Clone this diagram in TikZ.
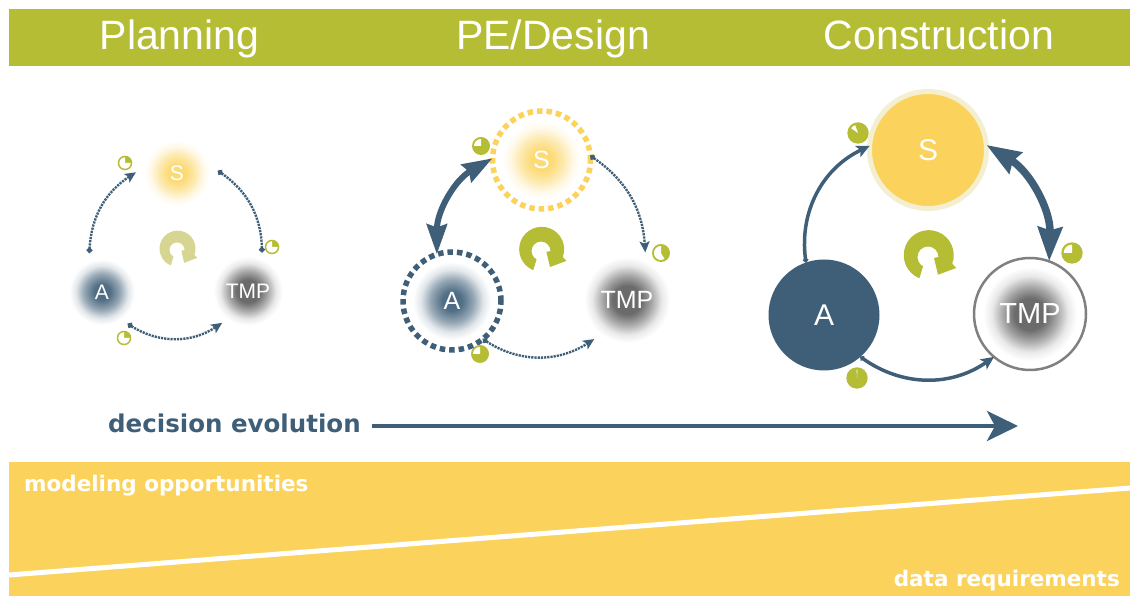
\documentclass[tikz,border=0pt]{standalone}
\usepackage{fontspec}
\setmainfont{Liberation Sans}
\newfontfamily\evofont{DejaVu Sans}
\usetikzlibrary{arrows.meta}
\definecolor{bandolive}{HTML}{B5BD35}
\definecolor{paleolive}{HTML}{D6D592}
\definecolor{bandyellow}{HTML}{FBD35C}
\definecolor{paleyellow}{HTML}{F3EFD0}
\definecolor{slateblue}{HTML}{3F5F78}
\definecolor{midgray}{HTML}{6B6B6B}
\pgfdeclareradialshading{glowS}{\pgfpoint{0bp}{0bp}}{color(0bp)=(bandyellow!85!white); color(5bp)=(bandyellow!85!white); color(11bp)=(bandyellow!50!white); color(16bp)=(bandyellow!15!white); color(20bp)=(white); color(50bp)=(white)}
\pgfdeclareradialshading{glowA}{\pgfpoint{0bp}{0bp}}{color(0bp)=(slateblue!95!white); color(5bp)=(slateblue!90!white); color(11bp)=(slateblue!55!white); color(16bp)=(slateblue!15!white); color(20bp)=(white); color(50bp)=(white)}
\pgfdeclareradialshading{glowT}{\pgfpoint{0bp}{0bp}}{color(0bp)=(midgray); color(7bp)=(midgray); color(12bp)=(midgray!60!white); color(17bp)=(midgray!15!white); color(21bp)=(white); color(50bp)=(white)}
\tikzset{disc/.style={circle, inner sep=0, outer sep=0, text=white, align=center}}
\tikzset{txt/.style={font=\fontsize{#1}{#1}\selectfont}}
\tikzset{head/.style={inner sep=0, anchor=base, text=white, font=\fontsize{41}{41}\selectfont}}
\tikzset{evo/.style={inner sep=0, font=\evofont\bfseries\fontsize{#1}{#1}\selectfont}}
\tikzset{ringdash/.style={line width=5.5pt, dash pattern=on 5.5pt off 4pt}}
\tikzset{arrdot/.style={draw=slateblue, line width=2.4pt, dash pattern=on 2.2pt off 1pt, {Circle[length=5.5pt,slateblue]}-{Stealth[length=11pt,width=10pt,inset=2.5pt,slateblue]}}}
\tikzset{arrfat/.style={draw=slateblue, line width=6pt, {Stealth[length=30pt,width=20pt,inset=3pt]}-{Stealth[length=30pt,width=20pt,inset=3pt]}}}
\tikzset{arrbig/.style={draw=slateblue, line width=7.5pt, {Stealth[length=34pt,width=24pt,inset=3pt]}-{Stealth[length=34pt,width=24pt,inset=3pt]}}}
\tikzset{arrmid/.style={draw=slateblue, line width=3.5pt, {Circle[length=5pt]}-{Stealth[length=13pt,width=12pt,inset=3pt]}}}
\tikzset{pics/pie/.style 2 args={code={
	\fill[bandolive] (0,0) circle (1);
	\fill[white] (0,0) -- (#1:.78) arc[start angle=#1, end angle=#2, radius=.78] -- cycle;
}}}
\tikzset{pics/cyc/.style={code={
	\fill[#1] (248:.92) arc[start angle=248, end angle=-20, radius=1] -- (1.13,-.44) -- (.4,-.71) -- (.24,-.04) -- (.42,0) arc[start angle=0, end angle=242, radius=.42] -- cycle;
}}}

\begin{document}
\begin{tikzpicture}[x=1pt, y=1pt]
	\useasboundingbox (0,0) rectangle (1130,596);
	\fill[bandolive] (9,530) rectangle (1130,587);
	\fill[bandyellow] (9,0) rectangle (1130,134);
	\draw[white, line width=5pt] (9,21) -- (1130,108);

	\node[head] (plan) at (179.5,546) {Planning};
	\node[head] (design) at (553,546) {PE/Design};
	\node[head] (build) at (939,546) {Construction};

	\node[disc, txt=21, minimum size=82pt, shading=glowS] (S1) at (177,423) {S};
	\node[disc, txt=21, minimum size=82pt, shading=glowA] (A1) at (102,304) {A};
	\node[disc, txt=21, minimum size=82pt, shading=glowT] (T1) at (248,305) {TMP};
	\draw[arrdot] (A1.108) to[bend left=27] (S1.179);
	\draw[arrdot, {Circle[length=5.5pt,slateblue]}-{Circle[length=5.5pt,slateblue]}] (S1.3) to[bend left=27] (T1.70);
	\draw[arrdot] (A1.-51) to[bend right=33] (T1.231);
	\pic[scale=7.3] (p1) at (125,433) {pie={90}{360}};
	\pic[scale=7.3] (p2) at (272,349) {pie={90}{360}};
	\pic[scale=7.3] (p3) at (124,258) {pie={90}{360}};
	\pic[scale=18] (c1) at (177,346) {cyc=paleolive};

	\node[disc, txt=25, minimum size=98pt, shading=glowS, draw=bandyellow, ringdash] (S2) at (541.5,436) {S};
	\node[disc, txt=25, minimum size=98pt, shading=glowA, draw=slateblue, ringdash] (A2) at (452,295) {A};
	\node[disc, txt=25, minimum size=102pt, shading=glowT] (T2) at (627,296) {TMP};
	\draw[arrfat] (A2.108) to[bend left=30] (S2.178);
	\draw[arrdot] (S2.5) to[bend left=26] (T2.69);
	\draw[arrdot] (A2.-51) to[bend right=33] (T2.230);
	\pic[scale=9] (p4) at (481,450) {pie={90}{180}};
	\pic[scale=9] (p5) at (661,343) {pie={90}{300}};
	\pic[scale=9] (p6) at (480,242) {pie={90}{180}};
	\pic[scale=22.5] (c2) at (541,345) {cyc=bandolive};

	\node[disc, txt=30, minimum size=117pt, fill=bandyellow, draw=paleyellow, line width=5pt] (S3) at (928,446) {S};
	\node[disc, txt=30, minimum size=111pt, fill=slateblue] (A3) at (824,281) {A};
	\node[disc, txt=29, minimum size=112pt, shading=glowT, draw=gray, line width=2.5pt] (T3) at (1030,282) {TMP};
	\draw[arrmid] (A3.109) to[bend left=36] (S3.176);
	\draw[arrbig] (S3.5) to[bend left=30] (T3.70);
	\draw[arrmid] (A3.-49) to[bend right=35] (T3.230);
	\pic[scale=10.7] (p7) at (858,463) {pie={110}{145}};
	\pic[scale=10.7] (p8) at (1072,343) {pie={90}{180}};
	\pic[scale=10.7] (p9) at (857,218) {pie={87}{93}};
	\pic[scale=25] (c3) at (928,339) {cyc=bandolive};

	\node[evo=24.5, text=slateblue, anchor=west] (dec) at (108,173) {decision evolution};
	\coordinate (decend) at (1018,170);
	\draw[draw=slateblue, line width=4pt, -{Stealth[length=31pt,width=30pt,inset=8pt]}] (dec.east |- decend) ++(11,0) -- (decend);

	\node[evo=21.5, text=white, anchor=west] (mod) at (24,110) {modeling opportunities};
	\node[evo=21.5, text=white, anchor=east] (req) at (1120,15) {data requirements};
\end{tikzpicture}
\end{document}
